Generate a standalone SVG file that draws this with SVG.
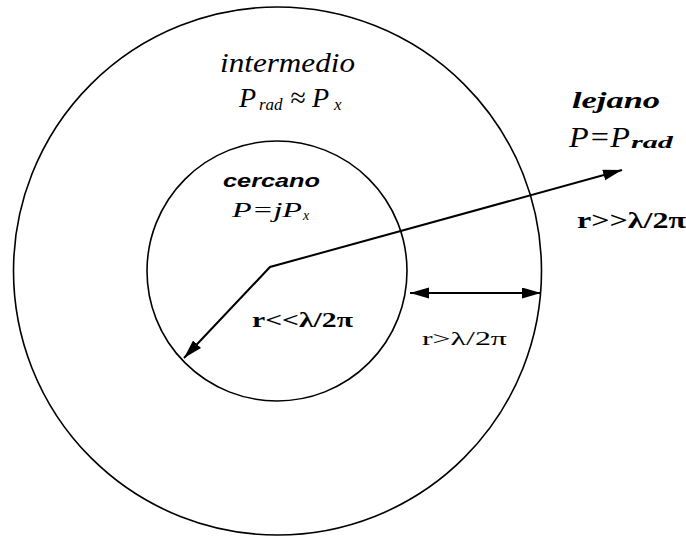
<svg xmlns="http://www.w3.org/2000/svg" width="686" height="538" viewBox="0 0 686 538">
<style>
.ring{fill:none;stroke:#000;stroke-width:1.6}
.arr{fill:none;stroke:#000;stroke-width:2}
.serif{font-family:"Liberation Serif","Times New Roman",serif;fill:#000}
.sans{font-family:"Liberation Sans",Arial,sans-serif;fill:#000}
.it{font-style:italic}
.b{font-weight:bold}
</style>
<defs>
<marker id="ah" markerUnits="userSpaceOnUse" markerWidth="20" markerHeight="12" refX="19" refY="5.5" orient="auto-start-reverse">
<path d="M0,0 L19,5.5 L0,11 z" fill="#000"/>
</marker>
</defs>
<rect width="686" height="538" fill="#fff"/>
<g id="outer">
<circle class="ring" cx="277.5" cy="271" r="264"/>
<text class="serif it" x="220" y="72" font-size="28" textLength="135" lengthAdjust="spacingAndGlyphs">intermedio</text>
<text class="serif it" y="107" font-size="28"><tspan x="239">P</tspan><tspan x="259" dy="3" font-size="17">rad</tspan><tspan x="290" dy="-3">≈</tspan><tspan x="312">P</tspan><tspan x="334" dy="3" font-size="17">x</tspan></text>
</g>
<g id="inner">
<circle class="ring" cx="277" cy="271" r="130"/>
<text class="sans it b" x="223" y="187" font-size="19" textLength="97" lengthAdjust="spacingAndGlyphs">cercano</text>
<text class="serif it" y="217" font-size="22"><tspan x="232" textLength="70" lengthAdjust="spacingAndGlyphs">P=jP</tspan><tspan x="303" dy="3" font-size="14">x</tspan></text>
</g>
<g id="far">
<text class="serif it b" x="572" y="108" font-size="23" textLength="88" lengthAdjust="spacingAndGlyphs">lejano</text>
<text class="serif it" y="147" font-size="30"><tspan x="569" textLength="61" lengthAdjust="spacingAndGlyphs">P=P</tspan><tspan x="631" dy="1" font-size="17" font-weight="bold" textLength="42" lengthAdjust="spacingAndGlyphs">rad</tspan></text>
</g>
<g id="labels">
<text class="serif b" x="577" y="228" font-size="24" textLength="109" lengthAdjust="spacingAndGlyphs">r&gt;&gt;λ/2π</text>
<text class="serif b" x="252" y="327" font-size="20" textLength="101" lengthAdjust="spacingAndGlyphs">r&lt;&lt;λ/2π</text>
<text class="serif" x="422" y="345" font-size="19" textLength="85" lengthAdjust="spacingAndGlyphs">r&gt;λ/2π</text>
</g>
<g id="connectors">
<polyline class="arr" points="184,358 270,267 622,170" marker-start="url(#ah)" marker-end="url(#ah)"/>
<line class="arr" x1="410" y1="293" x2="541" y2="293" marker-start="url(#ah)" marker-end="url(#ah)"/>
</g>
</svg>
